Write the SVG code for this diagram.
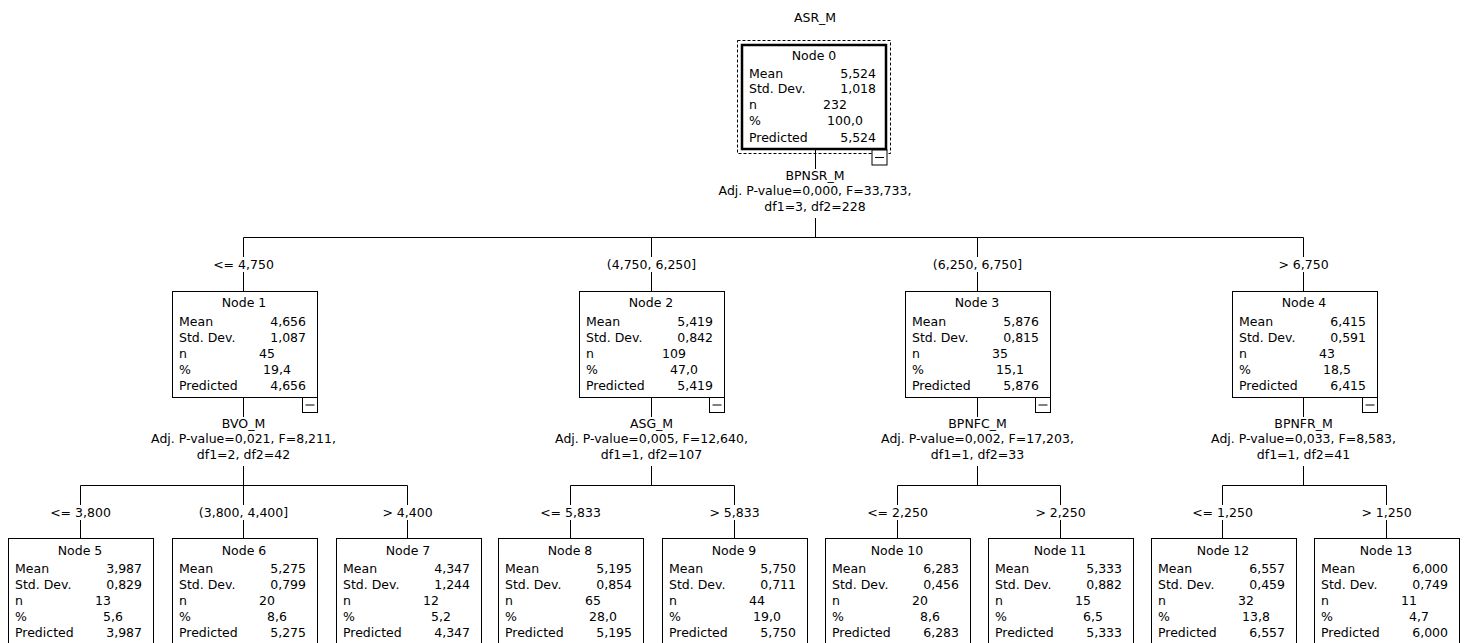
<svg xmlns="http://www.w3.org/2000/svg" width="1467" height="643" viewBox="0 0 1467 643">
<style>
text{font-family:"DejaVu Sans","Liberation Sans",sans-serif;font-size:12.5px;fill:#000}
.c{text-anchor:middle}
.r{text-anchor:end}
.box{fill:#fff;stroke:#000;stroke-width:1}
.ln{stroke:#000;stroke-width:1;fill:none}
.root{fill:#fff;stroke:#000;stroke-width:2.5}
.dash{fill:none;stroke:#000;stroke-width:1;stroke-dasharray:3 2}
</style>
<defs>
<g id="minus"><rect x="-15" y="0" width="15" height="15" class="box"/><line x1="-12" y1="7.5" x2="-3" y2="7.5" class="ln"/></g>
</defs>
<rect width="1467" height="643" fill="#fff"/>
<text x="815" y="22" class="c">ASR_M</text>

<g id="connectors">
<!-- root split -->
<line x1="815.5" y1="150" x2="815.5" y2="169" class="ln"/>
<text x="815" y="179.5" class="c">BPNSR_M</text>
<text x="815" y="195" class="c">Adj. P-value=0,000, F=33,733,</text>
<text x="815" y="211" class="c">df1=3, df2=228</text>
<line x1="815.5" y1="218" x2="815.5" y2="237.5" class="ln"/>
<line x1="243.5" y1="237.5" x2="1303.5" y2="237.5" class="ln"/>
<line x1="243.5" y1="237.5" x2="243.5" y2="257" class="ln"/><line x1="243.5" y1="272" x2="243.5" y2="291" class="ln"/>
<line x1="651.5" y1="237.5" x2="651.5" y2="257" class="ln"/><line x1="651.5" y1="272" x2="651.5" y2="291" class="ln"/>
<line x1="977.5" y1="237.5" x2="977.5" y2="257" class="ln"/><line x1="977.5" y1="272" x2="977.5" y2="291" class="ln"/>
<line x1="1303.5" y1="237.5" x2="1303.5" y2="257" class="ln"/><line x1="1303.5" y1="272" x2="1303.5" y2="291" class="ln"/>
<text x="243.5" y="268.5" class="c">&lt;= 4,750</text>
<text x="651.5" y="268.5" class="c">(4,750, 6,250]</text>
<text x="977.5" y="268.5" class="c">(6,250, 6,750]</text>
<text x="1303.5" y="268.5" class="c">&gt; 6,750</text>

<!-- node1 split -->
<line x1="243.5" y1="397" x2="243.5" y2="417" class="ln"/>
<text x="243.5" y="427.5" class="c">BVO_M</text>
<text x="243.5" y="443" class="c">Adj. P-value=0,021, F=8,211,</text>
<text x="243.5" y="459" class="c">df1=2, df2=42</text>
<line x1="243.5" y1="466" x2="243.5" y2="485.5" class="ln"/>
<line x1="80.5" y1="485.5" x2="407.5" y2="485.5" class="ln"/>
<line x1="80.5" y1="485.5" x2="80.5" y2="505" class="ln"/><line x1="80.5" y1="520" x2="80.5" y2="538" class="ln"/>
<line x1="243.5" y1="485.5" x2="243.5" y2="505" class="ln"/><line x1="243.5" y1="520" x2="243.5" y2="538" class="ln"/>
<line x1="407.5" y1="485.5" x2="407.5" y2="505" class="ln"/><line x1="407.5" y1="520" x2="407.5" y2="538" class="ln"/>
<text x="80.5" y="516.5" class="c">&lt;= 3,800</text>
<text x="243.5" y="516.5" class="c">(3,800, 4,400]</text>
<text x="407.5" y="516.5" class="c">&gt; 4,400</text>

<!-- node2 split -->
<line x1="651.5" y1="397" x2="651.5" y2="417" class="ln"/>
<text x="651.5" y="427.5" class="c">ASG_M</text>
<text x="651.5" y="443" class="c">Adj. P-value=0,005, F=12,640,</text>
<text x="651.5" y="459" class="c">df1=1, df2=107</text>
<line x1="651.5" y1="466" x2="651.5" y2="485.5" class="ln"/>
<line x1="570.5" y1="485.5" x2="734.5" y2="485.5" class="ln"/>
<line x1="570.5" y1="485.5" x2="570.5" y2="505" class="ln"/><line x1="570.5" y1="520" x2="570.5" y2="538" class="ln"/>
<line x1="734.5" y1="485.5" x2="734.5" y2="505" class="ln"/><line x1="734.5" y1="520" x2="734.5" y2="538" class="ln"/>
<text x="570.5" y="516.5" class="c">&lt;= 5,833</text>
<text x="734.5" y="516.5" class="c">&gt; 5,833</text>

<!-- node3 split -->
<line x1="977.5" y1="397" x2="977.5" y2="417" class="ln"/>
<text x="977.5" y="427.5" class="c">BPNFC_M</text>
<text x="977.5" y="443" class="c">Adj. P-value=0,002, F=17,203,</text>
<text x="977.5" y="459" class="c">df1=1, df2=33</text>
<line x1="977.5" y1="466" x2="977.5" y2="485.5" class="ln"/>
<line x1="897.5" y1="485.5" x2="1060.5" y2="485.5" class="ln"/>
<line x1="897.5" y1="485.5" x2="897.5" y2="505" class="ln"/><line x1="897.5" y1="520" x2="897.5" y2="538" class="ln"/>
<line x1="1060.5" y1="485.5" x2="1060.5" y2="505" class="ln"/><line x1="1060.5" y1="520" x2="1060.5" y2="538" class="ln"/>
<text x="897.5" y="516.5" class="c">&lt;= 2,250</text>
<text x="1060.5" y="516.5" class="c">&gt; 2,250</text>

<!-- node4 split -->
<line x1="1303.5" y1="397" x2="1303.5" y2="417" class="ln"/>
<text x="1303.5" y="427.5" class="c">BPNFR_M</text>
<text x="1303.5" y="443" class="c">Adj. P-value=0,033, F=8,583,</text>
<text x="1303.5" y="459" class="c">df1=1, df2=41</text>
<line x1="1303.5" y1="466" x2="1303.5" y2="485.5" class="ln"/>
<line x1="1222.5" y1="485.5" x2="1386.5" y2="485.5" class="ln"/>
<line x1="1222.5" y1="485.5" x2="1222.5" y2="505" class="ln"/><line x1="1222.5" y1="520" x2="1222.5" y2="538" class="ln"/>
<line x1="1386.5" y1="485.5" x2="1386.5" y2="505" class="ln"/><line x1="1386.5" y1="520" x2="1386.5" y2="538" class="ln"/>
<text x="1222.5" y="516.5" class="c">&lt;= 1,250</text>
<text x="1386.5" y="516.5" class="c">&gt; 1,250</text>
</g>

<g id="node0">
<rect x="737.5" y="40.5" width="153" height="113" class="dash"/>
<rect x="742" y="45" width="144" height="104" class="root"/>
<use href="#minus" x="887" y="150"/>
<text x="814" y="59.5" class="c">Node 0</text>
<text x="749" y="78">Mean</text><text x="876" y="78" class="r">5,524</text>
<text x="749" y="93">Std. Dev.</text><text x="876" y="93" class="r">1,018</text>
<text x="749" y="109">n</text><text x="835" y="109" class="c">232</text>
<text x="749" y="125">%</text><text x="845" y="125" class="c">100,0</text>
<text x="749" y="142">Predicted</text><text x="876" y="142" class="r">5,524</text>
</g>

<g id="node1" transform="translate(172,291)">
<rect x="0.5" y="0.5" width="145" height="106" class="box"/>
<use href="#minus" x="145.5" y="106.5"/>
<text x="72" y="15.5" class="c">Node 1</text>
<text x="7" y="34.5">Mean</text><text x="134" y="34.5" class="r">4,656</text>
<text x="7" y="50.5">Std. Dev.</text><text x="134" y="50.5" class="r">1,087</text>
<text x="7" y="66.5">n</text><text x="95" y="66.5" class="c">45</text>
<text x="7" y="82.5">%</text><text x="105" y="82.5" class="c">19,4</text>
<text x="7" y="98.5">Predicted</text><text x="134" y="98.5" class="r">4,656</text>
</g>

<g id="node2" transform="translate(579,291)">
<rect x="0.5" y="0.5" width="145" height="106" class="box"/>
<use href="#minus" x="145.5" y="106.5"/>
<text x="72" y="15.5" class="c">Node 2</text>
<text x="7" y="34.5">Mean</text><text x="134" y="34.5" class="r">5,419</text>
<text x="7" y="50.5">Std. Dev.</text><text x="134" y="50.5" class="r">0,842</text>
<text x="7" y="66.5">n</text><text x="95" y="66.5" class="c">109</text>
<text x="7" y="82.5">%</text><text x="105" y="82.5" class="c">47,0</text>
<text x="7" y="98.5">Predicted</text><text x="134" y="98.5" class="r">5,419</text>
</g>

<g id="node3" transform="translate(905,291)">
<rect x="0.5" y="0.5" width="145" height="106" class="box"/>
<use href="#minus" x="145.5" y="106.5"/>
<text x="72" y="15.5" class="c">Node 3</text>
<text x="7" y="34.5">Mean</text><text x="134" y="34.5" class="r">5,876</text>
<text x="7" y="50.5">Std. Dev.</text><text x="134" y="50.5" class="r">0,815</text>
<text x="7" y="66.5">n</text><text x="95" y="66.5" class="c">35</text>
<text x="7" y="82.5">%</text><text x="105" y="82.5" class="c">15,1</text>
<text x="7" y="98.5">Predicted</text><text x="134" y="98.5" class="r">5,876</text>
</g>

<g id="node4" transform="translate(1232,291)">
<rect x="0.5" y="0.5" width="145" height="106" class="box"/>
<use href="#minus" x="145.5" y="106.5"/>
<text x="72" y="15.5" class="c">Node 4</text>
<text x="7" y="34.5">Mean</text><text x="134" y="34.5" class="r">6,415</text>
<text x="7" y="50.5">Std. Dev.</text><text x="134" y="50.5" class="r">0,591</text>
<text x="7" y="66.5">n</text><text x="95" y="66.5" class="c">43</text>
<text x="7" y="82.5">%</text><text x="105" y="82.5" class="c">18,5</text>
<text x="7" y="98.5">Predicted</text><text x="134" y="98.5" class="r">6,415</text>
</g>

<g id="node5" transform="translate(8,538)">
<rect x="0.5" y="0.5" width="145" height="106" class="box"/>
<text x="72" y="16.5" class="c">Node 5</text>
<text x="7" y="34.5">Mean</text><text x="134" y="34.5" class="r">3,987</text>
<text x="7" y="50.5">Std. Dev.</text><text x="134" y="50.5" class="r">0,829</text>
<text x="7" y="66.5">n</text><text x="95" y="66.5" class="c">13</text>
<text x="7" y="82.5">%</text><text x="105" y="82.5" class="c">5,6</text>
<text x="7" y="98.5">Predicted</text><text x="134" y="98.5" class="r">3,987</text>
</g>

<g id="node6" transform="translate(172,538)">
<rect x="0.5" y="0.5" width="145" height="106" class="box"/>
<text x="72" y="16.5" class="c">Node 6</text>
<text x="7" y="34.5">Mean</text><text x="134" y="34.5" class="r">5,275</text>
<text x="7" y="50.5">Std. Dev.</text><text x="134" y="50.5" class="r">0,799</text>
<text x="7" y="66.5">n</text><text x="95" y="66.5" class="c">20</text>
<text x="7" y="82.5">%</text><text x="105" y="82.5" class="c">8,6</text>
<text x="7" y="98.5">Predicted</text><text x="134" y="98.5" class="r">5,275</text>
</g>

<g id="node7" transform="translate(336,538)">
<rect x="0.5" y="0.5" width="145" height="106" class="box"/>
<text x="72" y="16.5" class="c">Node 7</text>
<text x="7" y="34.5">Mean</text><text x="134" y="34.5" class="r">4,347</text>
<text x="7" y="50.5">Std. Dev.</text><text x="134" y="50.5" class="r">1,244</text>
<text x="7" y="66.5">n</text><text x="95" y="66.5" class="c">12</text>
<text x="7" y="82.5">%</text><text x="105" y="82.5" class="c">5,2</text>
<text x="7" y="98.5">Predicted</text><text x="134" y="98.5" class="r">4,347</text>
</g>

<g id="node8" transform="translate(498,538)">
<rect x="0.5" y="0.5" width="145" height="106" class="box"/>
<text x="72" y="16.5" class="c">Node 8</text>
<text x="7" y="34.5">Mean</text><text x="134" y="34.5" class="r">5,195</text>
<text x="7" y="50.5">Std. Dev.</text><text x="134" y="50.5" class="r">0,854</text>
<text x="7" y="66.5">n</text><text x="95" y="66.5" class="c">65</text>
<text x="7" y="82.5">%</text><text x="105" y="82.5" class="c">28,0</text>
<text x="7" y="98.5">Predicted</text><text x="134" y="98.5" class="r">5,195</text>
</g>

<g id="node9" transform="translate(662,538)">
<rect x="0.5" y="0.5" width="145" height="106" class="box"/>
<text x="72" y="16.5" class="c">Node 9</text>
<text x="7" y="34.5">Mean</text><text x="134" y="34.5" class="r">5,750</text>
<text x="7" y="50.5">Std. Dev.</text><text x="134" y="50.5" class="r">0,711</text>
<text x="7" y="66.5">n</text><text x="95" y="66.5" class="c">44</text>
<text x="7" y="82.5">%</text><text x="105" y="82.5" class="c">19,0</text>
<text x="7" y="98.5">Predicted</text><text x="134" y="98.5" class="r">5,750</text>
</g>

<g id="node10" transform="translate(825,538)">
<rect x="0.5" y="0.5" width="145" height="106" class="box"/>
<text x="72" y="16.5" class="c">Node 10</text>
<text x="7" y="34.5">Mean</text><text x="134" y="34.5" class="r">6,283</text>
<text x="7" y="50.5">Std. Dev.</text><text x="134" y="50.5" class="r">0,456</text>
<text x="7" y="66.5">n</text><text x="95" y="66.5" class="c">20</text>
<text x="7" y="82.5">%</text><text x="105" y="82.5" class="c">8,6</text>
<text x="7" y="98.5">Predicted</text><text x="134" y="98.5" class="r">6,283</text>
</g>

<g id="node11" transform="translate(988,538)">
<rect x="0.5" y="0.5" width="145" height="106" class="box"/>
<text x="72" y="16.5" class="c">Node 11</text>
<text x="7" y="34.5">Mean</text><text x="134" y="34.5" class="r">5,333</text>
<text x="7" y="50.5">Std. Dev.</text><text x="134" y="50.5" class="r">0,882</text>
<text x="7" y="66.5">n</text><text x="95" y="66.5" class="c">15</text>
<text x="7" y="82.5">%</text><text x="105" y="82.5" class="c">6,5</text>
<text x="7" y="98.5">Predicted</text><text x="134" y="98.5" class="r">5,333</text>
</g>

<g id="node12" transform="translate(1151,538)">
<rect x="0.5" y="0.5" width="145" height="106" class="box"/>
<text x="72" y="16.5" class="c">Node 12</text>
<text x="7" y="34.5">Mean</text><text x="134" y="34.5" class="r">6,557</text>
<text x="7" y="50.5">Std. Dev.</text><text x="134" y="50.5" class="r">0,459</text>
<text x="7" y="66.5">n</text><text x="95" y="66.5" class="c">32</text>
<text x="7" y="82.5">%</text><text x="105" y="82.5" class="c">13,8</text>
<text x="7" y="98.5">Predicted</text><text x="134" y="98.5" class="r">6,557</text>
</g>

<g id="node13" transform="translate(1314,538)">
<rect x="0.5" y="0.5" width="145" height="106" class="box"/>
<text x="72" y="16.5" class="c">Node 13</text>
<text x="7" y="34.5">Mean</text><text x="134" y="34.5" class="r">6,000</text>
<text x="7" y="50.5">Std. Dev.</text><text x="134" y="50.5" class="r">0,749</text>
<text x="7" y="66.5">n</text><text x="95" y="66.5" class="c">11</text>
<text x="7" y="82.5">%</text><text x="105" y="82.5" class="c">4,7</text>
<text x="7" y="98.5">Predicted</text><text x="134" y="98.5" class="r">6,000</text>
</g>
</svg>
